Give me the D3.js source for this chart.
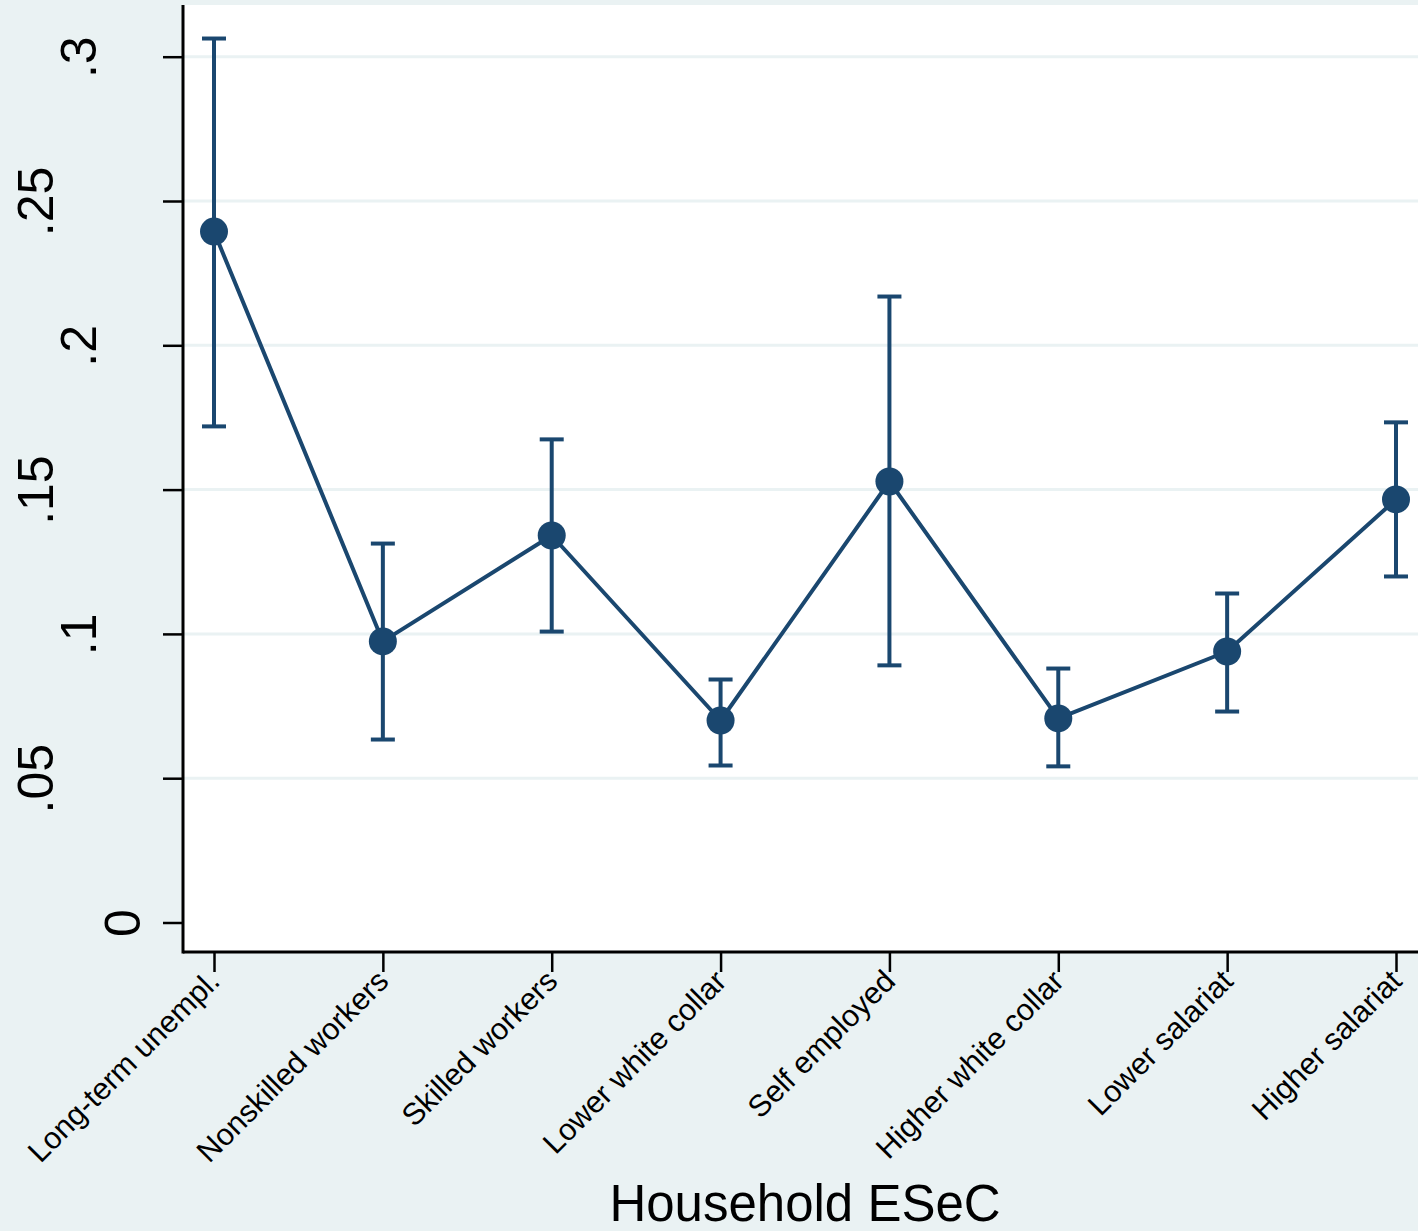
<!DOCTYPE html>
<html>
<head>
<meta charset="utf-8">
<script src="https://cdn.jsdelivr.net/npm/d3@7"></script>
<style>
  html, body { margin: 0; padding: 0; background: #EAF2F3; }
  svg { display: block; font-family: "Liberation Sans", Arial, sans-serif; }
</style>
</head>
<body>
<svg id="chart" width="1418" height="1231"></svg>
<script>
// Household ESeC categories
const categories = [
  "Long-term unempl.", "Nonskilled workers", "Skilled workers", "Lower white collar",
  "Self employed", "Higher white collar", "Lower salariat", "Higher salariat"
];
// Point estimates and 95% confidence bounds
const estimates = [0.2394, 0.0974, 0.1341, 0.0700, 0.1528, 0.0707, 0.0939, 0.1466];
const ciLower   = [0.1719, 0.0634, 0.1008, 0.0544, 0.0891, 0.0541, 0.0731, 0.1199];
const ciUpper   = [0.3063, 0.1313, 0.1674, 0.0842, 0.2169, 0.0880, 0.1140, 0.1733];
// Y axis ticks
const yTicks = [0, 0.05, 0.1, 0.15, 0.2, 0.25, 0.3];
const xTitle = "Household ESeC";

const navy = "#1A476F";
const bg = "#EAF2F3";

const plot = { left: 183, right: 1418, top: 5, bottom: 952 };

const svg = d3.select("#chart");

const x = d3.scalePoint().domain(categories).range([214, 1396]);
const y = d3.scaleLinear().domain([0, 0.3]).range([922.5, 56.7]);

// Plot region
svg.append("rect")
  .attr("x", plot.left).attr("y", plot.top)
  .attr("width", plot.right - plot.left).attr("height", plot.bottom - plot.top)
  .attr("fill", "#fff");

// Horizontal grid lines
svg.append("g").selectAll("line")
  .data(yTicks.filter(d => d > 0))
  .join("line")
  .attr("x1", plot.left).attr("x2", plot.right)
  .attr("y1", d => y(d)).attr("y2", d => y(d))
  .attr("stroke", bg).attr("stroke-width", 3);

const fmt = d => d === 0 ? "0" : d3.format("")(d).replace(/^0/, "");

// Y axis
const yAxis = svg.append("g")
  .attr("transform", `translate(${plot.left},0)`)
  .call(d3.axisLeft(y).tickValues(yTicks).tickSize(20).tickFormat(fmt));
yAxis.select(".domain").remove();
yAxis.selectAll(".tick line").attr("stroke", "#000").attr("stroke-width", 2.5);
yAxis.selectAll(".tick text").remove();
yAxis.selectAll(".tick").append("text")
  .attr("transform", d => `translate(${-43.3 * fmt(d).length},0) rotate(-90)`)
  .attr("text-anchor", "middle")
  .attr("fill", "#000")
  .attr("font-size", 50)
  .text(fmt);

// X axis
const xAxis = svg.append("g")
  .attr("transform", `translate(0,${plot.bottom})`)
  .call(d3.axisBottom(x).tickSize(20).tickSizeOuter(0));
xAxis.select(".domain").remove();
xAxis.selectAll(".tick line").attr("stroke", "#000").attr("stroke-width", 2.5);
xAxis.selectAll(".tick text")
  .attr("fill", "#000")
  .attr("font-size", 30.5)
  .attr("text-anchor", "end")
  .attr("y", 0).attr("dy", 0)
  .attr("transform", "translate(7,31) rotate(-45)");

// Axis lines
svg.append("line")
  .attr("x1", plot.left).attr("x2", plot.left)
  .attr("y1", plot.top).attr("y2", plot.bottom + 1.5)
  .attr("stroke", "#000").attr("stroke-width", 3);
svg.append("line")
  .attr("x1", plot.left).attr("x2", plot.right)
  .attr("y1", plot.bottom).attr("y2", plot.bottom)
  .attr("stroke", "#000").attr("stroke-width", 3);

// Confidence interval whiskers
const ci = svg.append("g").attr("stroke", navy).attr("stroke-width", 4).attr("fill", "none");
categories.forEach((c, i) => {
  const cx = x(c);
  ci.append("line").attr("x1", cx).attr("x2", cx).attr("y1", y(ciLower[i])).attr("y2", y(ciUpper[i]));
  ci.append("line").attr("x1", cx - 12).attr("x2", cx + 12).attr("y1", y(ciLower[i])).attr("y2", y(ciLower[i]));
  ci.append("line").attr("x1", cx - 12).attr("x2", cx + 12).attr("y1", y(ciUpper[i])).attr("y2", y(ciUpper[i]));
});

// Connecting line
svg.append("path")
  .datum(estimates)
  .attr("fill", "none").attr("stroke", navy).attr("stroke-width", 4)
  .attr("stroke-linejoin", "round")
  .attr("d", d3.line().x((d, i) => x(categories[i])).y(d => y(d)));

// Point markers
svg.append("g").selectAll("circle")
  .data(estimates)
  .join("circle")
  .attr("cx", (d, i) => x(categories[i]))
  .attr("cy", d => y(d))
  .attr("r", 14)
  .attr("fill", navy);

// X axis title
svg.append("text")
  .attr("x", 805).attr("y", 1221)
  .attr("text-anchor", "middle")
  .attr("font-size", 51)
  .attr("fill", "#000")
  .text(xTitle);
</script>
</body>
</html>
